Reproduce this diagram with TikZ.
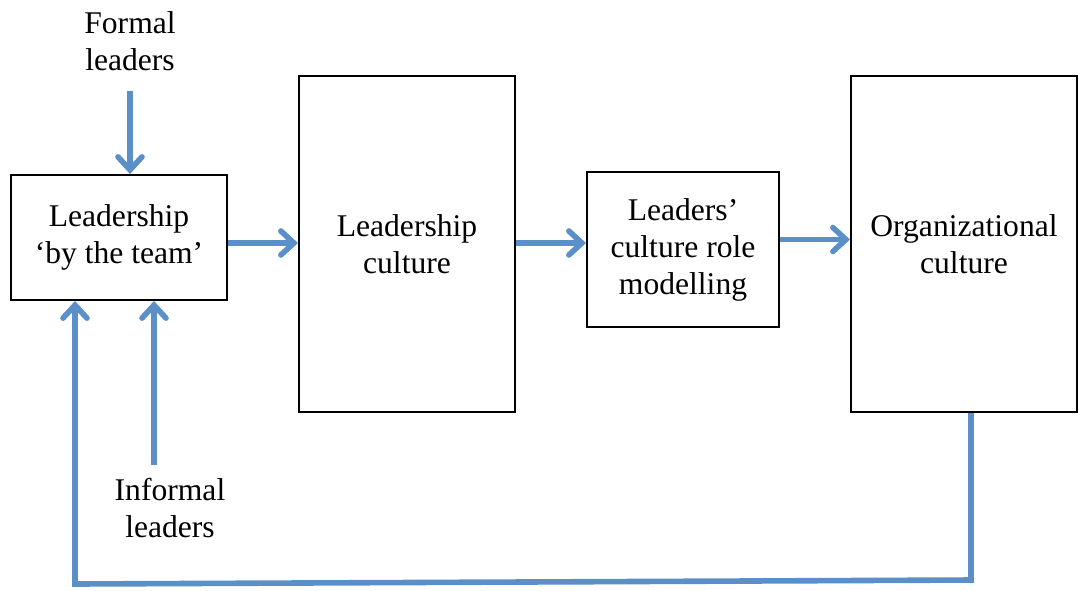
\documentclass[tikz,border=0pt]{standalone}
\usepackage{fontspec}
\setmainfont{Liberation Serif}
\usetikzlibrary{arrows.meta}
\definecolor{flowblue}{RGB}{91,143,199}

\begin{document}
\begin{tikzpicture}[x=0.5pt, y=-0.5pt,
    box/.style={draw, line width=1pt, align=center, inner sep=0pt,
        font=\fontsize{15.8}{18.5}\selectfont},
    lbl/.style={align=center, inner sep=0pt, font=\fontsize{15.8}{18.5}\selectfont},
    flow/.style={draw=flowblue, line width=2.8pt,
        -{Straight Barb[length=6.5pt, width=12pt, line cap=round]}}]

    \useasboundingbox (0,0) rectangle (1079,590);

    % boxes
    \node[box, minimum width=108pt, minimum height=62.5pt] (team) at (119,237.5) {Leadership\\`by the team'};
    \node[box, minimum width=108pt, minimum height=168pt] (culture) at (407,244) {Leadership\\culture};
    \node[box, minimum width=96pt, minimum height=77.5pt] (model) at (683,249.5) {Leaders'\\culture role\\modelling};
    \node[box, minimum width=113pt, minimum height=168pt] (org) at (964,244) {Organizational\\culture};

    % outside labels
    \node[lbl] (formal) at (130,41) {Formal\\leaders};
    \node[lbl] (informal) at (170,508) {Informal\\leaders};
    \coordinate (inf) at (154,465);
    \coordinate (loopR) at (971,580);
    \coordinate (loopL) at (75,584);

    % arrows
    \draw[flow, shorten <=10pt] (formal) -- (formal |- team.north);
    \draw[flow] ([yshift=-2.75pt]team.east) -- ([yshift=-2.75pt]team.east -| culture.west);
    \draw[flow] ([yshift=0.5pt]culture.east) -- ([yshift=0.5pt]culture.east -| model.west);
    \draw[flow] ([yshift=5pt]model.east) -- ([yshift=5pt]model.east -| org.west);
    \draw[flow] (inf) -- (inf |- team.south);

    % feedback loop
    \draw[flow] (loopR |- org.south) -- (loopR) -- (loopL) -- (loopL |- team.south);

\end{tikzpicture}
\end{document}
